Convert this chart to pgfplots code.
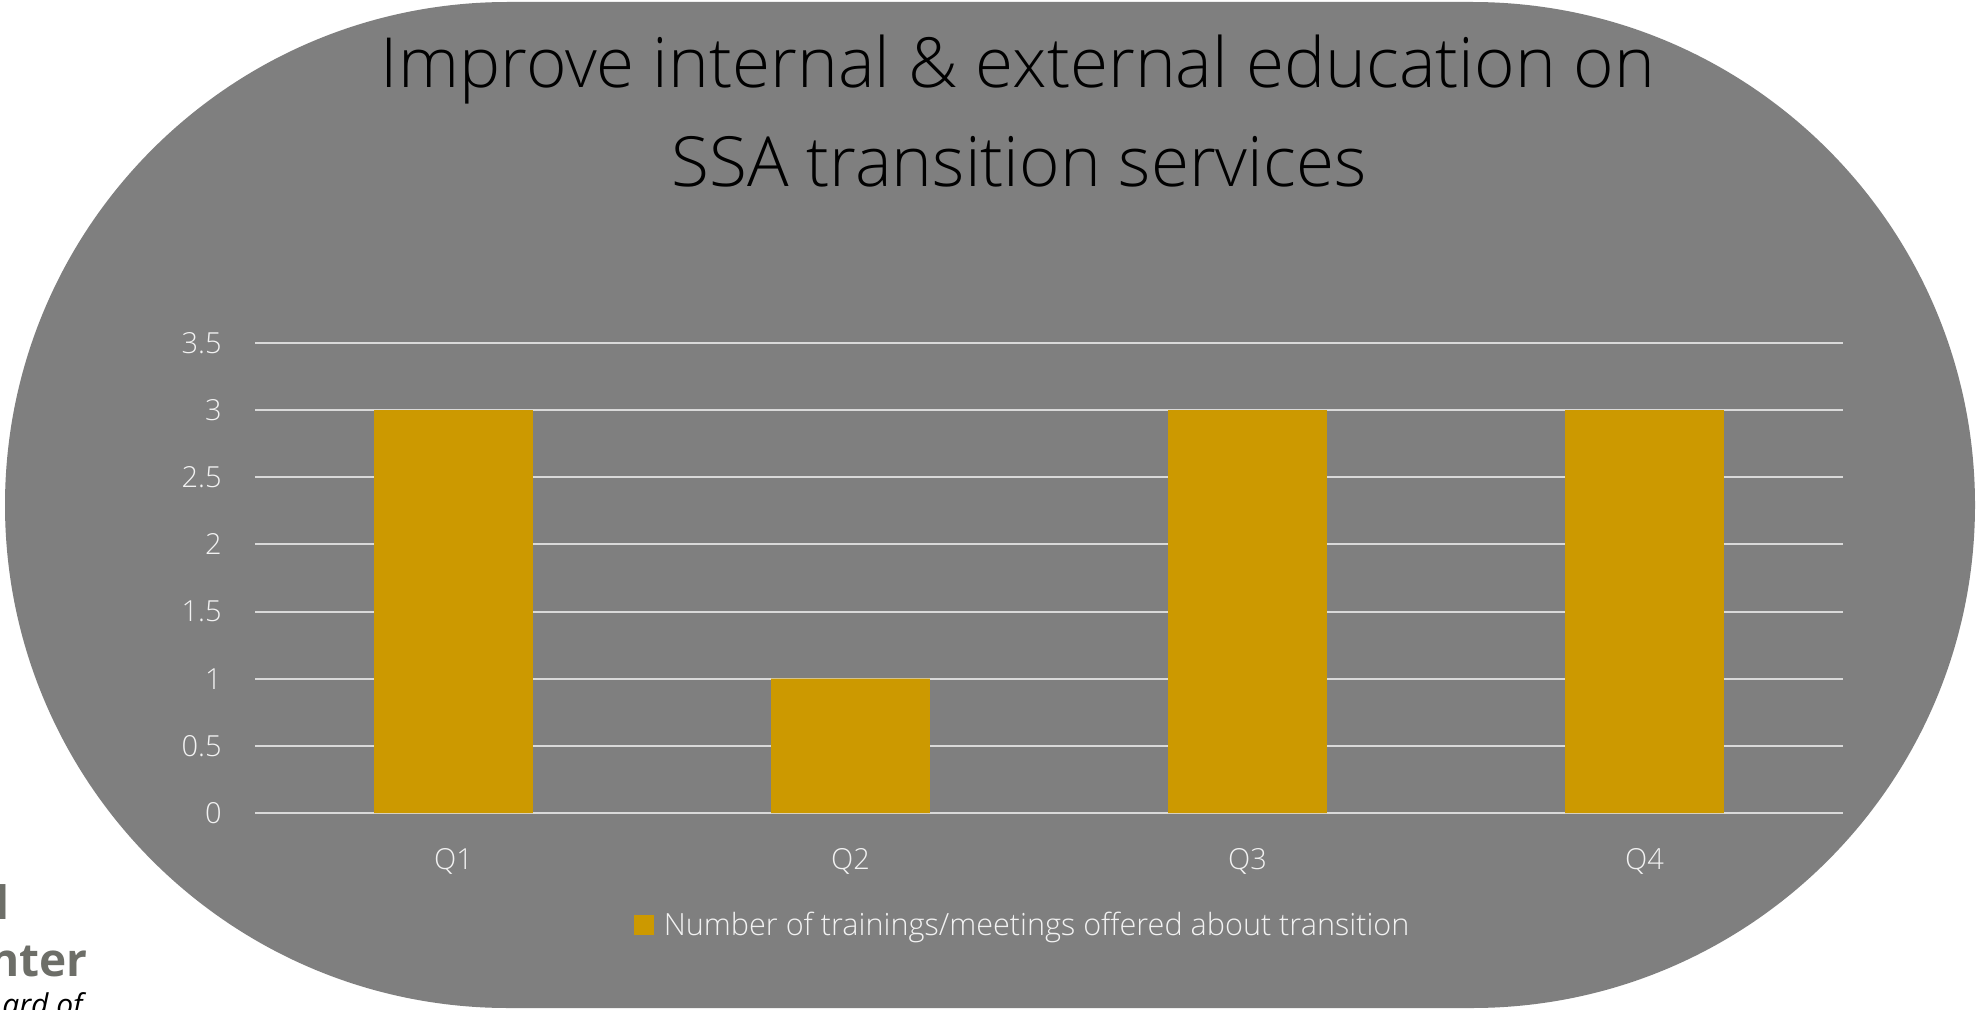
\documentclass[border=0pt]{standalone}
\usepackage{fontspec}
\setmainfont{Open Sans}
\IfFontExistsTF{Open Sans Light}{\newfontfamily\lightfont{Open Sans Light}}{\newfontfamily\lightfont{Open Sans}}
\usepackage{pgfplots}
\pgfplotsset{compat=1.18}
\definecolor{bg}{HTML}{7F7F7F}
\definecolor{barc}{HTML}{CC9900}
\definecolor{gridc}{HTML}{D9D9D9}
\definecolor{tickc}{HTML}{F2F2F2}
\definecolor{logo}{HTML}{6D6E68}
\begin{document}
\begin{tikzpicture}[x=0.5pt,y=0.5pt]
\path[use as bounding box] (0,0) rectangle (1977,1009);
\begin{scope}
\clip (0,0) rectangle (1977,1009);
\fill[white] (0,0) rectangle (1977,1009);
\fill[bg, rounded corners=251.5pt] (5,1) rectangle (1975,1007);
\node[anchor=base east, font=\fontsize{23pt}{27pt}\selectfont\bfseries, text=logo, inner sep=0pt] at (10,90) {l};
\node[anchor=base east, font=\fontsize{23pt}{27pt}\selectfont\bfseries, text=logo, inner sep=0pt] at (88,33) {nter};
\node[anchor=base east, font=\fontsize{15pt}{18pt}\selectfont\itshape, text=black, inner sep=0pt] at (83,-6) {ard of};
\end{scope}
\node[anchor=base, font=\lightfont\fontsize{34.6pt}{40pt}\selectfont, inner sep=0pt] at (1018,921) {Improve internal \& external education on};
\node[anchor=base, font=\lightfont\fontsize{34.6pt}{40pt}\selectfont, inner sep=0pt] at (1019,822) {SSA transition services};
\begin{axis}[
  at={(127.5pt,98pt)}, anchor=south west,
  width=794pt, height=235pt, scale only axis,
  xmin=-0.5, xmax=3.5, ymin=0, ymax=3.5,
  ytick={0,0.5,1,1.5,2,2.5,3,3.5},
  xtick={0,1,2,3}, xticklabels={Q1,Q2,Q3,Q4},
  axis line style={draw=none}, major tick length=0pt,
  ymajorgrids, grid style={gridc, line width=1pt},
  ybar, bar width=79.4pt,
  tick label style={font=\lightfont\fontsize{14.5pt}{16pt}\selectfont, text=tickc},
  /pgf/number format/assume math mode=true,
  yticklabel style={anchor=east, inner sep=0pt, xshift=-16.5pt},
  xticklabel style={anchor=base, inner sep=0pt, yshift=-28pt},
  legend style={at={(0.484,-0.238)}, anchor=center, draw=none, fill=none,
    font=\lightfont\fontsize{15.3pt}{17pt}\selectfont, text=tickc, inner sep=0pt},
  legend image code/.code={\fill[#1] (0pt,-5pt) rectangle (10pt,5pt);},
]
\addplot[fill=barc, draw=none] coordinates {(0,3) (1,1) (2,3) (3,3)};
\addlegendentry{\hspace{3pt}Number of trainings/meetings offered about transition}
\end{axis}
\end{tikzpicture}
\end{document}
